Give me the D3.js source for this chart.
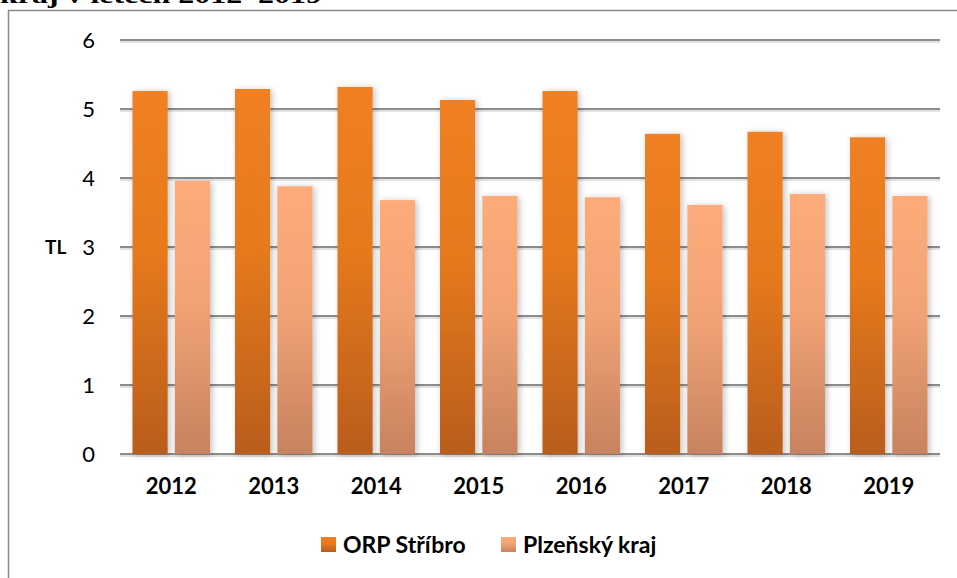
<!DOCTYPE html>
<html>
<head>
<meta charset="utf-8">
<script src="https://cdn.jsdelivr.net/npm/d3@7"></script>
<style>
  body { margin: 0; background: #fff; }
  svg { display: block; }
</style>
</head>
<body>
<div id="chart"></div>
<script>
// data
const years = ["2012", "2013", "2014", "2015", "2016", "2017", "2018", "2019"]
const series = ["ORP Stříbro", "Plzeňský kraj"]
const orpValues = [5.26, 5.29, 5.32, 5.13, 5.26, 4.64, 4.67, 4.59]
const krajValues = [3.96, 3.88, 3.68, 3.74, 3.72, 3.61, 3.77, 3.74]
const yTicks = [0, 1, 2, 3, 4, 5, 6]

const W = 957, H = 578
const margin = { top: 40, bottom: 124, left: 120, right: 17 }

const svg = d3.select("#chart")
    .append("svg")
    .attr("width", W)
    .attr("height", H)

const defs = svg.append("defs")

// gradients for the bars (darker at the bottom)
const grads = [
    { id: "gOrp", top: "#f08020", bottom: "#b95d1c" },
    { id: "gKraj", top: "#fdab7a", bottom: "#c7825f" }
]
grads.forEach(g => {
    const lg = defs.append("linearGradient")
        .attr("id", g.id)
        .attr("x1", 0).attr("y1", 0).attr("x2", 0).attr("y2", 1)
    lg.append("stop").attr("offset", "0%").attr("stop-color", g.top)
    lg.append("stop").attr("offset", "45%").attr("stop-color", d3.interpolateRgb(g.top, g.bottom)(0.2))
    lg.append("stop").attr("offset", "100%").attr("stop-color", g.bottom)
})

const shadow = defs.append("filter")
    .attr("id", "shadow")
    .attr("x", "-30%").attr("y", "-10%").attr("width", "160%").attr("height", "130%")
shadow.append("feDropShadow")
    .attr("dx", 2).attr("dy", 1)
    .attr("stdDeviation", 3)
    .attr("flood-color", "#000")
    .attr("flood-opacity", 0.25)

// title line, cut off at the top of the picture (as in the original)
svg.append("text")
    .attr("x", 0)
    .attr("y", 3)
    .attr("textLength", 322)
    .attr("lengthAdjust", "spacingAndGlyphs")
    .style("font-family", "Liberation Serif, serif")
    .style("font-weight", "bold")
    .style("font-size", "24px")
    .text("kraj v letech 2012–2019")

// outer frame of the chart
svg.append("rect")
    .attr("x", 8.5)
    .attr("y", 10.5)
    .attr("width", W)
    .attr("height", H)
    .attr("fill", "none")
    .attr("stroke", "#8a8a8a")
    .attr("stroke-width", 1.5)

const x = d3.scaleBand()
    .domain(years)
    .range([margin.left, W - margin.right])

const xSub = d3.scaleBand()
    .domain(series)
    .range([12.5, x.bandwidth() - 12.5])
    .paddingInner(0.17)

const y = d3.scaleLinear()
    .domain([0, 6])
    .range([H - margin.bottom, margin.top])

// gridlines
const grid = svg.append("g").attr("class", "grid")
grid.selectAll("line.shade")
    .data(yTicks)
    .join("line")
    .attr("class", "shade")
    .attr("x1", margin.left).attr("x2", W - margin.right)
    .attr("y1", d => y(d) + 2).attr("y2", d => y(d) + 2)
    .attr("stroke", "#d8d8d8")
    .attr("stroke-width", 1.5)
grid.selectAll("line.main")
    .data(yTicks)
    .join("line")
    .attr("class", "main")
    .attr("x1", margin.left).attr("x2", W - margin.right)
    .attr("y1", d => y(d)).attr("y2", d => y(d))
    .attr("stroke", "#8c8c8c")
    .attr("stroke-width", 2)

// y axis labels
const yAxis = d3.axisLeft(y).tickValues(yTicks).tickFormat(d3.format("d")).tickSize(0).tickPadding(25)
svg.append("g")
    .attr("class", "axis y-axis")
    .attr("transform", `translate(${margin.left},0)`)
    .call(yAxis)
    .call(g => g.select(".domain").remove())
    .selectAll("text")
    .style("font-family", "Lato, sans-serif")
    .style("font-size", "22px")
    .attr("fill", "#000")

svg.append("text")
    .attr("x", 45)
    .attr("y", y(3))
    .attr("dy", "0.35em")
    .style("font-family", "Lato, sans-serif")
    .style("font-weight", "bold")
    .style("font-size", "19px")
    .text("TL")

// bars
const rows = years.map((yr, i) => ({ year: yr, vals: [orpValues[i], krajValues[i]] }))
const groups = svg.append("g")
    .selectAll("g.year")
    .data(rows)
    .join("g")
    .attr("class", "year")
    .attr("transform", d => `translate(${x(d.year)},0)`)

groups.selectAll("rect")
    .data(d => d.vals.map((v, j) => ({ key: series[j], value: v, j })))
    .join("rect")
    .attr("x", d => xSub(d.key))
    .attr("width", xSub.bandwidth())
    .attr("y", d => y(d.value))
    .attr("height", d => y(0) - y(d.value))
    .attr("fill", d => `url(#${grads[d.j].id})`)
    .attr("filter", "url(#shadow)")

// x axis labels
const xAxis = d3.axisBottom(x).tickSize(0).tickPadding(24)
svg.append("g")
    .attr("class", "axis x-axis")
    .attr("transform", `translate(0,${y(0)})`)
    .call(xAxis)
    .call(g => g.select(".domain").remove())
    .selectAll("text")
    .style("font-family", "Lato, sans-serif")
    .style("font-weight", "bold")
    .style("font-size", "22px")
    .attr("fill", "#000")

// legend
const legendX = [321, 501]
const legend = svg.append("g")
    .selectAll("g.leg")
    .data(series)
    .join("g")
    .attr("class", "leg")
    .attr("transform", (d, i) => `translate(${legendX[i]},537)`)
legend.append("rect")
    .attr("width", 15)
    .attr("height", 15)
    .attr("fill", (d, i) => `url(#${grads[i].id})`)
legend.append("text")
    .attr("x", 22)
    .attr("y", 16)
    .style("font-family", "Lato, sans-serif")
    .style("font-weight", "bold")
    .style("font-size", "23px")
    .text(d => d)
</script>
</body>
</html>
